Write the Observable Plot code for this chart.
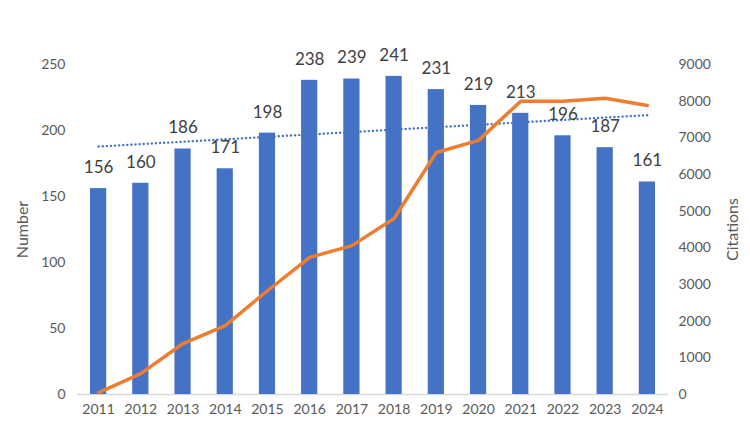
<!DOCTYPE html>
<html><head><meta charset="utf-8">
<script src="https://cdn.jsdelivr.net/npm/d3@7"></script>
<script src="https://cdn.jsdelivr.net/npm/@observablehq/plot@0.6"></script>
<style>body{margin:0;background:#fff;}</style>
</head><body><div id="chart"></div>
<script>
const years = [2011,2012,2013,2014,2015,2016,2017,2018,2019,2020,2021,2022,2023,2024];
const numbers = [156,160,186,171,198,238,239,241,231,219,213,196,187,161];
const citations = [50,570,1390,1880,2830,3740,4060,4800,6600,6930,8000,8000,8080,7880];
const leftTicks = [0,50,100,150,200,250];
const rightTicks = [0,1000,2000,3000,4000,5000,6000,7000,8000,9000];

const data = years.map((year, i) => ({year, number: numbers[i], citations: citations[i]}));
const y2 = d3.scaleLinear([0, 9000], [0, 250]);

const chart = Plot.plot({
  width: 750, height: 427,
  marginTop: 64, marginBottom: 33, marginLeft: 77, marginRight: 82,
  style: {fontFamily: "Lato", background: "white"},
  x: {domain: [2010.5, 2024.5], axis: null},
  y: {domain: [0, 250], axis: null},
  marks: [
    Plot.axisX(years, {tickSize: 0, tickPadding: 10, tickFormat: d => String(d), fontSize: 14, color: "#595959", label: null}),
    Plot.axisY(leftTicks, {anchor: "left", tickSize: 0, tickPadding: 12, fontSize: 14, color: "#595959", label: null}),
    Plot.axisY(rightTicks, {anchor: "right", y: y2, tickFormat: d => String(d), tickSize: 0, tickPadding: 10, fontSize: 14, color: "#595959", label: null}),
    Plot.axisY([], {anchor: "left", label: "Number", labelAnchor: "center", labelArrow: "none", labelOffset: 61, fontSize: 16, color: "#595959"}),
    Plot.axisY([], {anchor: "right", label: "Citations", labelAnchor: "center", labelArrow: "none", labelOffset: 69, fontSize: 16, color: "#595959"}),
    Plot.ruleY([0], {stroke: "#d9d9d9", strokeWidth: 1.3}),
    Plot.rectY(data, {x1: d => d.year - 0.5, x2: d => d.year + 0.5, y: "number", insetLeft: 13, insetRight: 13, fill: "#4472C4"}),
    Plot.linearRegressionY(data, {x: "year", y: "number", ci: 0, stroke: "#4472C4", strokeWidth: 2.4, strokeDasharray: "0.1,4", strokeLinecap: "round"}),
    Plot.lineY(data, {x: "year", y: d => y2(d.citations), stroke: "#ED7D31", strokeWidth: 3.5, strokeLinejoin: "round"}),
    Plot.text(data, {x: "year", y: "number", text: d => String(d.number), dy: -21, fontSize: 17, fill: "#404040"})
  ]
});
document.getElementById("chart").append(chart);
</script>
</body></html>
